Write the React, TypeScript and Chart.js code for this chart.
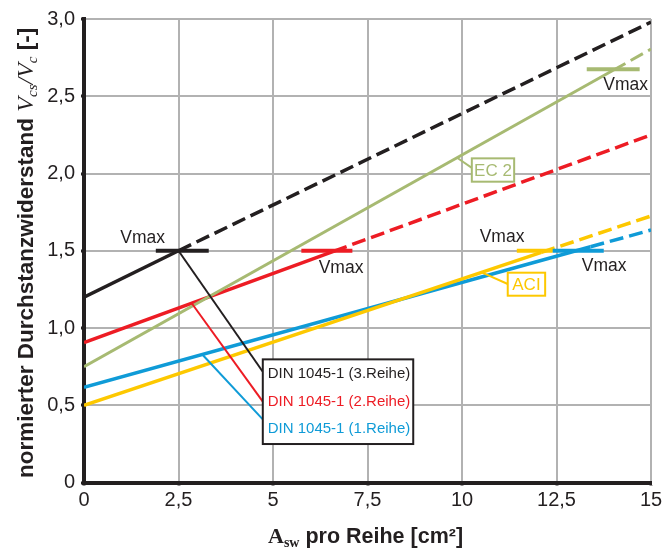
import React, { useEffect, useRef } from 'react';
import { Chart, registerables } from 'chart.js';

Chart.register(...registerables);

// ---- tick labels ----
const xTickLabels = ['0', '2,5', '5', '7,5', '10', '12,5', '15'];
const yTickLabels = ['0', '0,5', '1,0', '1,5', '2,0', '2,5', '3,0'];

// ---- series (start, Vmax break where dashing begins, end) ----
const seriesNames = ['DIN 1045-1 (3.Reihe)', 'DIN 1045-1 (2.Reihe)', 'DIN 1045-1 (1.Reihe)', 'EC 2', 'ACI'];
const din3X = [0, 2.5, 15];
const din3Y = [1.2, 1.5, 2.98];
const din2X = [0, 6.6, 15];
const din2Y = [0.905, 1.496, 2.25];
const din1X = [0, 13.4, 15];
const din1Y = [0.616, 1.526, 1.634];
const ec2X = [0, 14.0, 15];
const ec2Y = [0.75, 2.668, 2.805];
const aciX = [0, 12.1, 15];
const aciY = [0.5, 1.489, 1.725];

// ---- Vmax markers (x range at level) ----
const vmaxDin3X = [1.9, 3.3];
const vmaxDin3Y = 1.5;
const vmaxDin2X = [5.75, 7.1];
const vmaxDin2Y = 1.5;
const vmaxEc2X = [13.3, 14.7];
const vmaxEc2Y = 2.675;
const vmaxAciX = [11.45, 12.4];
const vmaxAciY = 1.5;
const vmaxDin1X = [12.4, 13.75];
const vmaxDin1Y = 1.5;

const C_BLACK = '#231f20';
const C_RED = '#ed1c24';
const C_GREEN = '#a7ba72';
const C_YELLOW = '#fdc800';
const C_BLUE = '#0f9bd7';
const C_GRID = '#b2b2b2';
const SANS = '"Liberation Sans", Arial, sans-serif';
const SERIF = '"Liberation Serif", "Times New Roman", serif';
const DASH = [14, 6];

const pts = (xs: number[], ys: number[]) => xs.map((x, i) => ({ x, y: ys[i] }));
const interp = (xs: number[], ys: number[], x: number) => {
  for (let i = 0; i < xs.length - 1; i++) {
    if (x >= xs[i] && x <= xs[i + 1]) {
      const t = (x - xs[i]) / (xs[i + 1] - xs[i]);
      return ys[i] + t * (ys[i + 1] - ys[i]);
    }
  }
  return ys[ys.length - 1];
};

const lineDs = (label: string, xs: number[], ys: number[], color: string, width: number) => ({
  label,
  data: pts(xs, ys),
  showLine: true,
  borderColor: color,
  backgroundColor: color,
  borderWidth: width,
  pointRadius: 0,
  fill: false,
  tension: 0,
  segment: {
    borderDash: (ctx: any) => (ctx.p0DataIndex >= 1 ? DASH : undefined),
  },
});

const markerDs = (xs: number[], level: number, color: string) => ({
  label: 'Vmax',
  data: xs.map((x) => ({ x, y: level })),
  showLine: true,
  borderColor: color,
  backgroundColor: color,
  borderWidth: 4,
  pointRadius: 0,
  fill: false,
});

const annotPlugin = {
  id: 'annot',
  afterDatasetsDraw(chart: any) {
    const ctx = chart.ctx;
    const xs = chart.scales.x;
    const ys = chart.scales.y;
    const px = (v: number) => xs.getPixelForValue(v);
    const py = (v: number) => ys.getPixelForValue(v);
    ctx.save();

    const line = (x1: number, y1: number, x2: number, y2: number, color: string, w: number) => {
      ctx.beginPath();
      ctx.strokeStyle = color;
      ctx.lineWidth = w;
      ctx.setLineDash([]);
      ctx.moveTo(px(x1), py(y1));
      ctx.lineTo(px(x2), py(y2));
      ctx.stroke();
    };

    // leader lines to legend box
    line(2.5, interp(din3X, din3Y, 2.5), 4.73, 0.717, C_BLACK, 2);
    line(2.85, interp(din2X, din2Y, 2.85), 4.73, 0.523, C_RED, 2);
    line(3.13, interp(din1X, din1Y, 3.13), 4.73, 0.409, C_BLUE, 2);
    // EC2 + ACI leaders
    line(9.87, interp(ec2X, ec2Y, 9.87), 10.26, 2.036, C_GREEN, 2);
    line(10.52, interp(aciX, aciY, 10.52), 11.21, 1.285, C_YELLOW, 2);

    const box = (l: number, r: number, t: number, b: number, color: string, w: number) => {
      const x1 = px(l), x2 = px(r), y1 = py(t), y2 = py(b);
      ctx.fillStyle = '#ffffff';
      ctx.fillRect(x1, y1, x2 - x1, y2 - y1);
      ctx.strokeStyle = color;
      ctx.lineWidth = w;
      ctx.strokeRect(x1, y1, x2 - x1, y2 - y1);
    };

    // legend box
    box(4.73, 8.71, 0.797, 0.249, C_BLACK, 2);
    ctx.font = `15px ${SANS}`;
    ctx.textBaseline = 'middle';
    ctx.textAlign = 'left';
    const legCols = [C_BLACK, C_RED, C_BLUE];
    const legNames = [seriesNames[0], seriesNames[1], seriesNames[2]];
    const legY = [0.702, 0.525, 0.346];
    legNames.forEach((n, i) => {
      ctx.fillStyle = legCols[i];
      ctx.fillText(n, px(4.86), py(legY[i]));
    });

    // EC 2 box
    box(10.26, 11.38, 2.098, 1.947, C_GREEN, 2);
    ctx.fillStyle = C_GREEN;
    ctx.textAlign = 'center';
    ctx.font = `17px ${SANS}`;
    ctx.fillText(seriesNames[3], (px(10.26) + px(11.38)) / 2, (py(2.098) + py(1.947)) / 2 + 1);
    // ACI box
    box(11.21, 12.2, 1.358, 1.209, C_YELLOW, 2);
    ctx.fillStyle = C_YELLOW;
    ctx.fillText(seriesNames[4], (px(11.21) + px(12.2)) / 2, (py(1.358) + py(1.209)) / 2 + 1);

    // Vmax texts
    ctx.fillStyle = C_BLACK;
    ctx.font = `17.5px ${SANS}`;
    const vm = [
      [1.55, 1.583],
      [6.8, 1.39],
      [14.33, 2.573],
      [11.06, 1.591],
      [13.76, 1.401],
    ];
    vm.forEach(([x, y]) => ctx.fillText('Vmax', px(x), py(y)));
    ctx.restore();
  },
  afterDraw(chart: any) {
    const ctx = chart.ctx;
    ctx.save();
    ctx.fillStyle = C_BLACK;
    ctx.textBaseline = 'alphabetic';
    ctx.textAlign = 'left';

    // y-axis title (rotated)
    ctx.save();
    ctx.translate(33, 478);
    ctx.rotate(-Math.PI / 2);
    let x = 0;
    const put = (t: string, font: string, dy = 0) => {
      ctx.font = font;
      ctx.fillText(t, x, dy);
      x += ctx.measureText(t).width;
    };
    put('normierter Durchstanzwiderstand ', `bold 22.5px ${SANS}`);
    put('V', `italic 24px ${SERIF}`);
    put('cs', `italic 15px ${SERIF}`, 4);
    put('/', `italic 24px ${SERIF}`);
    put('V', `italic 24px ${SERIF}`);
    put('c', `italic 15px ${SERIF}`, 4);
    put(' [-]', `bold 22.5px ${SANS}`);
    ctx.restore();

    // x-axis title
    x = 268;
    const putX = (t: string, font: string, dy = 0) => {
      ctx.font = font;
      ctx.fillText(t, x, 543 + dy);
      x += ctx.measureText(t).width;
    };
    putX('A', `bold 22px ${SERIF}`);
    putX('sw', `bold 14px ${SERIF}`, 4);
    putX(' pro Reihe [cm²]', `bold 21.5px ${SANS}`);
    ctx.restore();
  },
};

export default function App() {
  const ref = useRef<HTMLCanvasElement | null>(null);
  useEffect(() => {
    document.body.style.margin = '0';
    const canvas = ref.current!;
    const chart = new Chart(canvas, {
      type: 'scatter',
      data: {
        datasets: [
          markerDs(vmaxDin1X, vmaxDin1Y, C_BLUE),
          markerDs(vmaxAciX, vmaxAciY, C_YELLOW),
          markerDs(vmaxDin3X, vmaxDin3Y, C_BLACK),
          markerDs(vmaxDin2X, vmaxDin2Y, C_RED),
          markerDs(vmaxEc2X, vmaxEc2Y, C_GREEN),
          lineDs(seriesNames[0], din3X, din3Y, C_BLACK, 3.5),
          lineDs(seriesNames[4], aciX, aciY, C_YELLOW, 3.5),
          lineDs(seriesNames[2], din1X, din1Y, C_BLUE, 3.5),
          lineDs(seriesNames[3], ec2X, ec2Y, C_GREEN, 3),
          lineDs(seriesNames[1], din2X, din2Y, C_RED, 3.5),
        ] as any,
      },
      options: {
        responsive: false,
        animation: false,
        devicePixelRatio: 1,
        layout: { padding: { top: 19, right: 16, left: 0, bottom: 0 } },
        plugins: { legend: { display: false }, tooltip: { enabled: false } },
        scales: {
          x: {
            type: 'linear',
            min: 0,
            max: 15,
            afterFit: (s: any) => { s.height = 66.5; },
            ticks: {
              stepSize: 2.5,
              color: C_BLACK,
              font: { family: SANS, size: 20 },
              padding: 3,
              maxRotation: 0,
              callback: (_v: any, i: number) => xTickLabels[i],
            },
            grid: { color: C_GRID, lineWidth: 2, tickColor: C_BLACK, tickLength: 3, tickWidth: 3 } as any,
            border: { color: C_BLACK, width: 4 },
          },
          y: {
            type: 'linear',
            min: 0,
            max: 3,
            afterFit: (s: any) => { s.width = 84; },
            ticks: {
              stepSize: 0.5,
              color: C_BLACK,
              font: { family: SANS, size: 20 },
              padding: 6,
              callback: (_v: any, i: number) => yTickLabels[i],
            },
            grid: { color: C_GRID, lineWidth: 2, tickColor: C_BLACK, tickLength: 3, tickWidth: 3 } as any,
            border: { color: C_BLACK, width: 4 },
          },
        },
      },
      plugins: [annotPlugin],
    } as any);
    return () => chart.destroy();
  }, []);
  return <canvas ref={ref} width={667} height={549} style={{ display: 'block', width: 667, height: 549 }} />;
}
